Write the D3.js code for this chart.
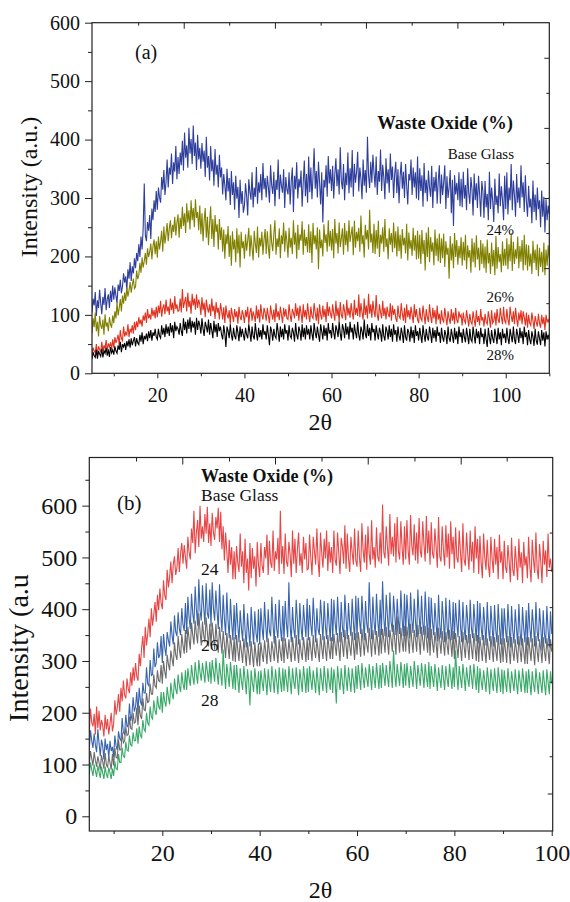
<!DOCTYPE html>
<html>
<head>
<meta charset="utf-8">
<script src="https://cdn.jsdelivr.net/npm/d3@7"></script>
<style>
  body { margin: 0; background: #fff; }
  text { font-family: "Liberation Serif", "DejaVu Serif", serif; fill: #111; }
</style>
</head>
<body>
<div id="chart"></div>
<script>
// 2θ grid, one reading every 0.25° (each row below = 5°)
var twoThetaA = d3.range(5, 110.1, 0.25)
var twoThetaB = d3.range(5, 100.1, 0.25)

// ---- panel (a) intensities ----
var baseGlassA = [
  104,128,116,139,98,125,112,143,120,101,131,117,146,108,127,135,112,141,122,150,
  126,147,133,120,152,141,160,137,149,171,155,166,143,178,162,190,158,183,171,197,
  180,206,192,221,199,234,212,248,325,236,226,259,244,271,230,282,262,296,276,312,
  280,318,301,292,336,314,348,305,327,366,318,352,340,376,324,361,345,389,332,370,
  341,378,356,398,347,412,369,390,352,420,376,401,358,424,372,395,348,408,366,386,
  350,394,362,381,336,405,352,372,330,389,346,366,321,384,340,357,318,374,335,352,
  306,341,322,296,350,311,334,288,346,305,327,280,338,299,319,266,331,290,312,275,
  287,325,304,270,332,311,297,344,284,318,302,353,290,327,309,341,296,360,315,334,
  301,338,318,292,356,322,307,345,286,331,314,366,298,340,321,309,349,283,336,315,
  306,344,289,329,352,276,338,315,361,299,333,318,347,285,326,364,303,341,292,371,
  310,352,298,338,385,316,346,301,362,327,289,344,258,331,318,356,302,372,325,349,
  312,355,299,341,368,320,349,306,387,329,315,358,296,343,322,378,308,351,318,382,
  302,358,326,344,379,311,352,333,298,366,321,348,309,405,338,317,362,326,374,343,
  318,371,305,346,328,383,312,357,336,298,368,325,349,309,376,331,354,300,341,362,
  308,349,291,337,362,316,345,300,358,322,289,341,330,366,305,352,318,344,299,371,
  296,351,312,339,285,360,308,331,294,347,318,302,355,283,336,311,345,290,329,356,
  290,340,305,326,356,281,337,300,318,348,274,331,252,339,306,326,296,344,286,333,
  284,345,299,322,279,351,308,290,336,315,270,342,296,325,283,338,307,268,329,312,
  266,329,284,307,262,345,281,318,296,259,333,288,304,274,342,286,320,297,262,338,
  281,344,272,318,296,358,279,330,305,268,341,292,318,283,356,301,327,276,339,294,
  268,321,284,299,257,330,276,306,262,318,281,296,250,313,268,302,241,298,262,287,
  272
]
var waste24A = [
  68,94,79,104,72,88,63,98,82,76,92,66,101,80,87,72,96,84,78,99,
  86,106,94,121,99,112,127,106,133,119,138,124,147,131,142,156,138,151,162,145,
  148,176,161,168,189,172,198,181,192,206,186,214,199,208,222,195,217,229,204,226,
  198,234,212,226,244,208,251,222,238,257,226,248,262,231,254,242,268,236,258,272,
  232,266,247,285,252,274,240,291,258,279,246,296,262,283,250,298,266,276,245,287,
  238,274,226,262,283,232,268,219,257,286,230,264,216,271,242,255,212,264,228,250,
  208,246,196,238,221,252,199,236,184,243,212,229,190,248,205,237,181,242,214,226,
  196,238,210,227,249,200,236,215,193,244,222,206,251,198,232,217,242,203,229,247,
  204,243,215,196,255,224,209,238,262,203,231,216,248,197,236,221,258,208,244,226,
  198,249,215,232,204,262,220,241,196,254,211,238,227,260,203,246,218,233,207,255,
  206,243,189,257,221,236,212,250,178,246,214,229,200,255,223,238,208,262,217,244,
  210,247,197,264,222,240,205,258,216,231,248,203,257,219,244,208,262,225,238,251,
  202,261,215,242,226,249,208,270,221,236,198,254,229,245,212,280,224,239,206,256,
  204,245,213,261,199,237,222,250,208,264,216,231,195,248,220,240,207,258,214,243,
  200,251,209,237,196,247,219,232,205,256,193,241,213,228,201,249,210,236,195,244,
  196,237,187,245,204,228,176,241,199,250,190,233,208,224,185,246,201,231,192,239,
  189,231,197,239,182,226,203,215,162,235,193,222,180,240,199,228,186,218,197,233,
  184,225,193,237,178,219,198,211,172,231,190,224,181,236,195,215,176,228,187,222,
  180,217,172,229,188,206,170,224,183,211,168,235,179,216,190,204,173,226,184,213,
  184,231,178,221,192,240,175,225,187,212,196,234,180,218,191,228,176,237,185,221,
  176,219,183,205,170,227,189,212,177,221,166,215,182,208,173,224,168,212,184,219,
  196
]
var waste26A = [
  32,44,38,35,50,30,46,41,36,54,38,48,42,57,39,51,45,53,41,58,
  44,62,52,58,66,48,74,60,56,80,63,70,66,84,62,76,71,82,68,88,
  74,89,79,96,84,92,80,99,90,104,86,110,94,101,92,112,98,108,94,114,
  96,116,103,124,97,112,118,101,126,106,114,100,128,108,121,102,132,110,118,106,
  108,128,104,144,112,122,131,106,138,113,124,102,136,116,128,109,135,112,126,118,
  100,130,108,121,96,126,112,104,118,98,128,106,116,93,122,104,112,92,120,108,
  92,113,86,116,101,94,108,84,112,99,88,110,96,106,85,114,97,91,108,100,
  86,108,96,114,84,104,112,90,106,98,88,116,94,109,87,118,100,92,112,104,
  90,112,98,86,116,102,92,109,88,120,96,106,91,114,100,86,112,97,110,94,
  92,118,100,88,110,104,94,120,98,112,90,116,103,86,118,96,108,92,120,101,
  88,114,98,94,120,104,90,112,84,118,100,92,116,96,110,88,122,98,114,102,
  94,118,102,90,124,98,112,88,122,100,94,118,106,91,126,99,112,95,120,104,
  92,126,100,112,98,135,96,120,104,92,128,100,116,94,136,102,118,95,124,106,
  96,134,100,90,118,104,94,124,98,112,92,114,102,96,120,90,116,100,110,94,
  88,116,98,94,120,102,90,112,86,118,96,108,92,114,100,86,118,96,110,92,
  86,112,94,90,116,100,84,110,96,88,118,98,86,112,94,108,84,116,92,102,
  84,108,92,88,112,96,82,106,94,85,110,90,104,84,112,92,86,106,96,100,
  82,104,90,86,108,94,80,102,88,84,106,92,80,108,88,98,82,110,90,96,
  80,102,88,84,106,94,78,108,86,90,104,82,110,92,86,112,96,84,114,90,
  86,110,92,82,114,98,88,106,84,112,94,80,104,90,108,84,106,96,82,104,
  78,100,86,82,104,90,76,98,88,80,102,86,78,100,84,96,74,100,88,92,
  86
]
var waste28A = [
  24,36,30,27,40,25,38,33,29,42,27,39,34,44,30,41,28,45,35,40,
  32,46,38,34,48,40,54,36,50,45,52,40,55,46,58,44,60,48,56,62,
  46,60,52,49,66,54,70,50,64,58,68,55,72,60,74,56,70,64,76,62,
  58,76,64,60,82,66,78,62,84,68,80,64,86,70,82,60,88,72,80,76,
  66,86,72,64,94,74,88,68,92,76,96,70,90,78,88,66,95,74,90,82,
  68,94,76,64,88,80,70,92,66,86,74,60,90,70,84,62,86,72,80,66,
  58,82,68,45,80,72,60,84,66,56,78,64,58,82,70,55,80,62,76,66,
  56,78,66,60,84,70,54,80,64,58,86,68,56,78,62,74,58,84,66,72,
  58,82,66,48,80,72,56,76,64,60,86,70,54,80,62,76,58,84,68,74,
  56,82,64,60,78,70,54,86,66,58,80,72,56,84,62,78,58,82,66,76,
  58,82,68,56,86,70,60,80,66,54,84,72,58,82,64,78,56,86,68,74,
  60,86,70,58,82,74,62,88,68,56,84,76,60,86,66,80,58,88,70,78,
  58,84,70,60,88,66,56,80,72,58,92,68,60,84,64,78,56,86,70,76,
  56,82,68,58,78,70,54,84,64,56,80,72,58,82,62,76,54,84,66,74,
  54,80,64,56,78,68,52,82,62,56,76,70,54,80,60,74,52,82,64,72,
  56,78,64,52,82,66,54,76,62,56,80,68,52,78,60,74,54,80,64,70,
  52,78,62,54,74,66,50,80,60,54,76,64,52,78,58,72,50,80,62,70,
  52,76,62,53,78,64,50,76,58,54,80,64,51,76,60,72,50,78,62,68,
  50,76,58,45,78,62,50,74,60,52,76,64,50,78,58,70,48,76,60,68,
  52,78,60,50,76,64,53,80,58,50,76,66,52,78,60,72,50,80,62,70,
  48,74,58,50,72,62,47,76,56,49,72,60,48,74,56,70,46,72,58,66,
  58
]

// ---- panel (b) intensities ----
var baseGlassB = [
  162,208,181,174,198,158,212,170,204,166,186,176,154,196,168,188,158,178,200,164,
  178,224,196,210,236,202,248,222,262,234,228,266,246,238,278,252,288,262,296,270,
  262,314,290,326,348,306,366,330,352,382,346,402,368,390,414,376,428,398,440,412,
  400,456,426,418,476,442,462,492,450,486,502,466,480,518,472,508,528,488,524,500,
  478,540,510,496,556,528,590,508,548,572,520,600,536,560,530,584,546,598,528,566,
  522,586,548,534,578,556,596,530,588,516,560,494,548,512,470,534,486,520,458,512,
  458,522,490,472,546,482,512,450,536,470,498,436,528,460,518,478,502,444,530,486,
  462,528,484,470,520,498,544,466,532,490,480,552,474,512,496,538,468,590,488,522,
  468,546,492,482,530,506,462,552,488,536,470,516,548,484,508,470,540,496,528,476,
  478,544,500,466,540,512,486,556,494,462,548,508,480,536,498,552,474,530,490,520,
  470,552,496,484,548,508,468,538,520,488,562,478,546,498,472,540,510,486,556,494,
  482,552,500,472,566,514,490,544,476,560,506,486,572,496,520,480,558,502,492,548,
  488,602,510,498,560,520,484,584,506,540,502,566,490,578,512,496,570,520,486,560,
  496,572,514,486,582,522,504,564,494,548,488,576,512,500,570,526,492,580,508,552,
  486,568,508,498,556,520,480,578,502,492,560,514,484,562,500,546,478,570,506,540,
  478,558,500,490,552,510,472,566,496,484,548,506,476,552,492,530,470,560,498,536,
  468,542,490,460,546,500,476,534,484,462,540,498,470,536,486,520,458,544,490,512,
  458,532,482,470,524,494,452,538,476,464,522,488,456,536,480,510,450,530,484,502,
  460,540,484,452,534,496,470,548,478,458,526,492,450,532,486,514,462,546,480,498,
  472
]
var waste24B = [
  128,166,146,132,160,138,124,168,142,116,148,136,110,150,128,140,112,146,126,134,
  114,156,136,128,164,150,146,190,162,158,196,172,178,218,184,196,230,202,212,240,
  198,248,222,214,258,238,238,288,256,252,302,272,274,324,288,296,336,306,312,348,
  296,352,326,310,356,340,328,376,350,332,388,356,348,394,362,350,402,370,358,412,
  352,424,384,362,430,392,372,444,400,368,458,398,378,446,404,370,450,392,382,438,
  366,452,402,378,436,396,362,448,390,356,428,382,350,432,378,344,420,374,340,408,
  342,412,370,336,398,364,338,410,360,326,392,358,328,404,366,332,396,354,336,400,
  332,402,364,340,414,368,336,400,358,348,424,370,334,410,362,344,418,366,338,406,
  338,416,372,346,452,370,336,404,362,344,418,378,332,412,366,340,408,374,346,420,
  340,408,370,348,422,376,336,402,362,350,418,380,340,416,368,342,412,374,338,420,
  338,418,374,350,424,378,336,414,366,346,428,382,342,412,370,348,420,376,340,426,
  344,422,380,352,426,384,340,416,372,354,452,386,342,424,376,350,430,380,346,418,
  350,454,384,348,428,388,346,432,376,356,426,390,350,420,378,352,436,384,348,430,
  348,428,386,344,432,380,354,420,378,346,438,388,352,426,374,350,434,386,344,424,
  340,422,376,350,412,372,338,428,370,344,416,380,336,422,368,342,418,374,340,414,
  342,412,372,346,418,368,336,414,366,340,408,376,334,418,364,344,410,372,338,416,
  334,412,366,340,404,370,330,414,362,338,406,368,328,408,360,336,410,366,332,402,
  332,402,362,336,410,366,326,406,358,334,400,364,332,410,356,330,404,362,336,398,
  330,412,364,336,400,368,328,414,358,338,402,366,320,398,352,334,406,360,326,396,
  352
]
var waste26B = [
  100,126,112,98,124,108,96,116,104,90,118,106,92,122,100,94,116,104,90,120,
  98,132,114,112,148,128,128,162,142,146,172,156,158,192,170,168,200,180,182,210,
  176,214,194,188,228,206,204,238,220,222,256,236,236,274,252,248,282,262,260,292,
  256,300,280,266,312,294,282,320,304,290,336,312,302,348,322,306,352,330,314,360,
  316,366,342,322,374,350,332,378,352,334,392,358,330,376,350,336,384,356,328,372,
  330,374,348,322,372,342,316,366,340,314,358,334,306,354,330,304,350,328,300,346,
  298,350,322,300,340,318,296,344,316,290,336,314,292,338,312,288,336,310,290,334,
  290,336,314,298,340,318,294,344,316,298,338,320,300,348,318,296,342,316,300,346,
  296,344,320,304,342,318,298,346,322,300,350,320,296,342,318,302,346,324,298,344,
  302,346,324,300,350,322,306,344,320,298,352,326,304,348,322,300,350,324,304,346,
  304,352,330,310,354,326,300,356,332,308,360,330,304,350,328,310,356,332,302,354,
  312,356,334,308,362,336,310,354,332,316,364,338,308,360,334,312,358,336,310,362,
  314,362,340,316,366,338,312,360,342,318,370,340,312,386,342,316,364,338,318,368,
  318,366,342,314,372,340,316,360,344,318,370,342,312,366,340,320,368,342,316,364,
  310,362,336,316,356,334,306,364,338,314,358,334,310,356,332,312,360,336,308,358,
  304,354,330,306,348,326,300,356,328,306,350,330,302,352,326,304,354,328,300,350,
  298,346,324,300,350,320,296,344,322,302,348,324,298,346,320,300,350,322,296,344,
  298,344,320,296,348,322,294,346,318,300,342,320,296,348,322,298,344,318,294,346,
  294,346,322,300,344,318,292,348,320,298,342,322,296,346,318,300,344,320,294,342,
  318
]
var waste28B = [
  80,104,90,78,100,88,76,98,86,74,96,84,72,96,82,74,94,84,72,92,
  78,106,92,90,120,104,104,132,116,114,144,128,126,156,138,136,162,146,146,170,
  140,174,156,152,186,168,164,200,180,176,212,192,188,224,204,196,232,212,206,240,
  200,240,222,212,250,230,216,258,238,226,266,246,236,274,252,240,278,256,244,282,
  244,286,266,252,292,270,254,298,274,256,302,278,262,296,276,258,300,280,260,298,
  256,302,280,260,306,278,254,296,274,252,322,276,246,294,272,250,298,274,246,292,
  244,292,266,238,286,262,244,290,264,236,284,260,214,282,258,240,286,262,236,280,
  236,282,260,242,286,262,234,284,258,240,290,264,238,284,260,236,288,262,240,286,
  242,284,262,240,290,264,236,286,260,246,288,264,234,284,262,240,290,266,238,286,
  240,290,264,244,282,262,238,288,260,234,286,262,242,290,264,238,286,260,244,288,
  238,284,262,218,290,264,244,286,260,236,292,266,242,288,262,240,286,264,238,290,
  246,292,270,244,296,268,248,288,266,250,294,272,244,290,268,248,296,270,246,292,
  248,296,274,252,292,270,250,300,276,248,320,274,250,294,272,252,298,276,248,294,
  252,296,272,248,290,270,250,300,276,246,292,272,252,296,274,248,294,270,250,298,
  246,290,268,250,294,270,242,288,266,248,292,268,244,290,266,250,294,270,246,288,
  250,320,272,244,290,268,248,294,270,242,288,266,250,292,270,246,294,268,244,290,
  238,286,262,244,282,260,240,288,264,236,284,262,242,286,260,238,288,264,240,284,
  236,282,258,240,286,262,238,280,260,242,284,258,236,282,260,240,286,262,238,280,
  238,284,258,234,280,256,240,286,260,236,278,258,238,282,256,234,284,260,236,280,
  256
]

// tick values
var xLabelTicks = [20, 40, 60, 80, 100]
var xMinorA = [10, 30, 50, 70, 90, 110]
var xMinorB = [10, 30, 50, 70, 90]
var yLabelTicks = [0, 100, 200, 300, 400, 500, 600]
var yMinorA = [50, 150, 250, 350, 450, 550]
var yMinorB = [50, 150, 250, 350, 450, 550, 650]
// the top and right frames carry their own (secondary) tick spacing
var topTicksA = [15.6, 26.06, 36.5, 47.0, 57.5, 67.9, 78.4, 88.9, 99.4]
var rightTicksA = [60, 120, 180, 240, 300, 360, 420, 480, 540]
var topTicksB = [14.6, 24.1, 33.7, 43.15, 52.7, 62.2, 71.8, 81.3, 90.75]
var rightTicksB = [44, 116, 188, 260, 332, 404, 476, 548, 620]

var width = 570, height = 902

var svg = d3.select("#chart").append("svg")
    .attr("width", width)
    .attr("height", height)

function styleAxis(g, size) {
  g.select(".domain").remove()
  g.attr("font-family", '"Liberation Serif", "DejaVu Serif", serif')
   .attr("font-size", size)
  g.selectAll("line").attr("stroke", "#222").attr("stroke-width", 1)
  g.selectAll("text").attr("fill", "#111")
}

function drawPanel(p) {
  var x = d3.scaleLinear().domain(p.xDomain).range([p.left, p.right])
  var y = d3.scaleLinear().domain(p.yDomain).range([p.bottom, p.top])
  var g = svg.append("g")

  g.append("clipPath").attr("id", "clip-" + p.id)
    .append("rect")
    .attr("x", p.left).attr("y", p.top)
    .attr("width", p.right - p.left).attr("height", p.bottom - p.top)

  var line = d3.line()
      .x(function(d) { return x(d[0]) })
      .y(function(d) { return y(d[1]) })

  p.series.forEach(function(s) {
    var pts = s.values.map(function(v, i) { return [p.xs[i], v] })
      .filter(function(d) { return d[0] != null })
    g.append("path")
      .datum(pts)
      .attr("clip-path", "url(#clip-" + p.id + ")")
      .attr("fill", "none")
      .attr("stroke", s.color)
      .attr("stroke-width", 1.1)
      .attr("d", line)
  })

  // bottom axis: labelled major + minor
  g.append("g").attr("transform", "translate(0," + p.bottom + ")")
    .call(d3.axisBottom(x).tickValues(xLabelTicks).tickSize(5).tickPadding(p.xPad).tickFormat(d3.format("d")))
    .call(styleAxis, p.tickFont)
  g.append("g").attr("transform", "translate(0," + p.bottom + ")")
    .call(d3.axisBottom(x).tickValues(p.xMinor).tickSize(3).tickFormat(""))
    .call(styleAxis, p.tickFont)

  // left axis
  g.append("g").attr("transform", "translate(" + p.left + ",0)")
    .call(d3.axisLeft(y).tickValues(yLabelTicks).tickSize(7).tickPadding(p.yPad).tickFormat(d3.format("d")))
    .call(styleAxis, p.tickFont)
  g.append("g").attr("transform", "translate(" + p.left + ",0)")
    .call(d3.axisLeft(y).tickValues(p.yMinor).tickSize(4).tickFormat(""))
    .call(styleAxis, p.tickFont)

  // top axis, ticks pointing inside
  g.append("g").attr("transform", "translate(0," + p.top + ")")
    .call(d3.axisTop(x).tickValues(p.topTicks).tickSize(0).tickFormat(""))
    .call(styleAxis, p.tickFont)
    .selectAll(".tick line")
    .attr("y2", function(d, i) { return i % 2 ? p.topMajor : p.topMinor })

  // right axis, ticks pointing inside
  g.append("g").attr("transform", "translate(" + p.right + ",0)")
    .call(d3.axisRight(y).tickValues(p.rightTicks).tickSize(0).tickFormat(""))
    .call(styleAxis, p.tickFont)
    .selectAll(".tick line")
    .attr("x2", function(d, i) { return i % 2 ? -3 : -5 })

  // frame
  g.append("rect")
    .attr("x", p.left).attr("y", p.top)
    .attr("width", p.right - p.left).attr("height", p.bottom - p.top)
    .attr("fill", "none").attr("stroke", "#222").attr("stroke-width", 1.2)

  // axis titles
  g.append("text")
    .attr("x", (p.left + p.right) / 2 - 0.5).attr("y", p.xTitleY)
    .attr("text-anchor", "middle")
    .attr("font-size", p.titleFont)
    .text("2θ")
  g.append("text")
    .attr("transform", "translate(" + p.yTitleX + "," + p.yTitleY + ") rotate(-90)")
    .attr("text-anchor", "middle")
    .attr("font-size", p.yTitleFont)
    .text(p.yTitle)

  // annotations
  p.notes.forEach(function(n) {
    g.append("text")
      .attr("x", n.x).attr("y", n.y)
      .attr("text-anchor", n.anchor || "start")
      .attr("font-size", n.size)
      .attr("font-weight", n.bold ? "bold" : "normal")
      .text(n.text)
  })
}

drawPanel({
  id: "a",
  xs: twoThetaA,
  xDomain: [5, 110], yDomain: [0, 600],
  left: 92, right: 549.3, top: 22.7, bottom: 373.3,
  xMinor: xMinorA, yMinor: yMinorA,
  topTicks: topTicksA, rightTicks: rightTicksA, topMajor: 6, topMinor: 3,
  tickFont: 20, xPad: 10, yPad: 5,
  titleFont: 24, xTitleY: 430, yTitleX: 37, yTitleY: 187, yTitleFont: 24,
  yTitle: "Intensity (a.u.)",
  series: [
    { values: baseGlassA, color: "#2e3e9b" },
    { values: waste24A, color: "#808000" },
    { values: waste26A, color: "#e0321f" },
    { values: waste28A, color: "#000000" }
  ],
  notes: [
    { text: "(a)", x: 135, y: 59, size: 20 },
    { text: "Waste Oxide (%)", x: 513, y: 129, size: 18.5, bold: true, anchor: "end" },
    { text: "Base Glass", x: 514, y: 159, size: 15, anchor: "end" },
    { text: "24%", x: 514, y: 235, size: 15, anchor: "end" },
    { text: "26%", x: 514, y: 302, size: 15, anchor: "end" },
    { text: "28%", x: 514, y: 360, size: 15, anchor: "end" }
  ]
})

drawPanel({
  id: "b",
  xs: twoThetaB,
  xDomain: [5, 100.2], yDomain: [-28.4, 693],
  left: 89.3, right: 552.7, top: 457.5, bottom: 831,
  xMinor: xMinorB, yMinor: yMinorB,
  topTicks: topTicksB, rightTicks: rightTicksB, topMajor: 7, topMinor: 4,
  tickFont: 24, xPad: 8, yPad: 5,
  titleFont: 24, xTitleY: 898, yTitleX: 28, yTitleY: 648, yTitleFont: 28,
  yTitle: "Intensity (a.u",
  series: [
    { values: baseGlassB, color: "#e84646" },
    { values: waste24B, color: "#3864ad" },
    { values: waste26B, color: "#6b6b6b" },
    { values: waste28B, color: "#38a968" }
  ],
  notes: [
    { text: "(b)", x: 117, y: 510, size: 21 },
    { text: "Waste Oxide (%)", x: 201, y: 482, size: 18, bold: true },
    { text: "Base Glass", x: 201, y: 501, size: 17.5 },
    { text: "24", x: 201, y: 575, size: 17.5 },
    { text: "26", x: 201, y: 651, size: 17.5 },
    { text: "28", x: 201, y: 706, size: 17.5 }
  ]
})
</script>
</body>
</html>
